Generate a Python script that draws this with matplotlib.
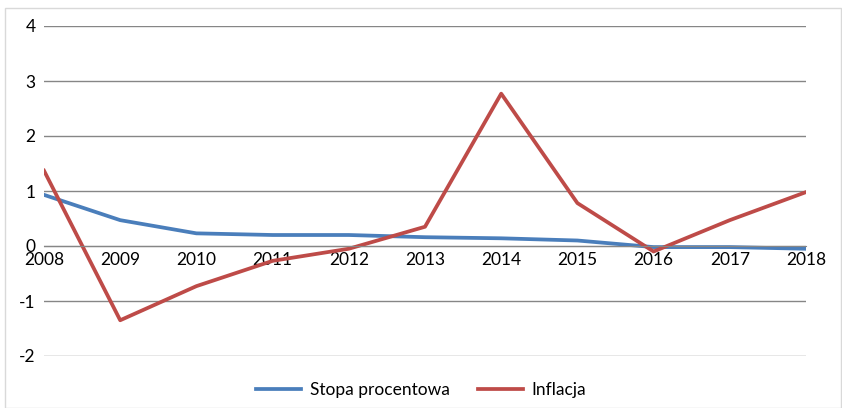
import matplotlib.pyplot as plt
from matplotlib.patches import Rectangle

years = [2008, 2009, 2010, 2011, 2012, 2013, 2014, 2015, 2016, 2017, 2018]
stopa = [0.93, 0.47, 0.23, 0.20, 0.20, 0.16, 0.14, 0.10, -0.02, -0.02, -0.05]
inflacja = [1.37, -1.35, -0.73, -0.27, -0.05, 0.35, 2.77, 0.78, -0.10, 0.47, 0.98]

plt.rcParams['font.family'] = ['Lato', 'DejaVu Sans']
plt.rcParams['axes.unicode_minus'] = False

fig = plt.figure(figsize=(8.42, 4.08), dpi=100)
fig.patches.append(Rectangle((5 / 842, 0), 836 / 842, 400 / 408, transform=fig.transFigure,
                             fill=False, edgecolor='#d9d9d9', linewidth=1))

ax = fig.add_axes([44 / 842, 52 / 408, 762 / 842, 330 / 408])
ax.plot(years, stopa, color='#4A7EBB', linewidth=2.7, label='Stopa procentowa')
ax.plot(years, inflacja, color='#BE4B48', linewidth=2.7, label='Inflacja')

ax.set_xlim(2008, 2018)
ax.set_ylim(-2, 4)
ax.set_yticks(range(-2, 5))
ax.set_xticks(years)
ax.grid(axis='y', color='#868686', linewidth=1)
ax.set_axisbelow(True)
for s in ['top', 'right', 'left']:
    ax.spines[s].set_visible(False)
ax.spines['bottom'].set_position(('data', 0))
ax.spines['bottom'].set_color('#868686')
ax.tick_params(length=0, labelsize=12.5)
ax.tick_params(axis='x', pad=4)
ax.tick_params(axis='y', pad=6)

fig.legend(loc='lower center', bbox_to_anchor=(0.5, -0.015), ncol=2, frameon=False,
           fontsize=12.5, handlelength=2.6, handletextpad=0.5, columnspacing=1.6)

fig.savefig('out.png', dpi=100)
